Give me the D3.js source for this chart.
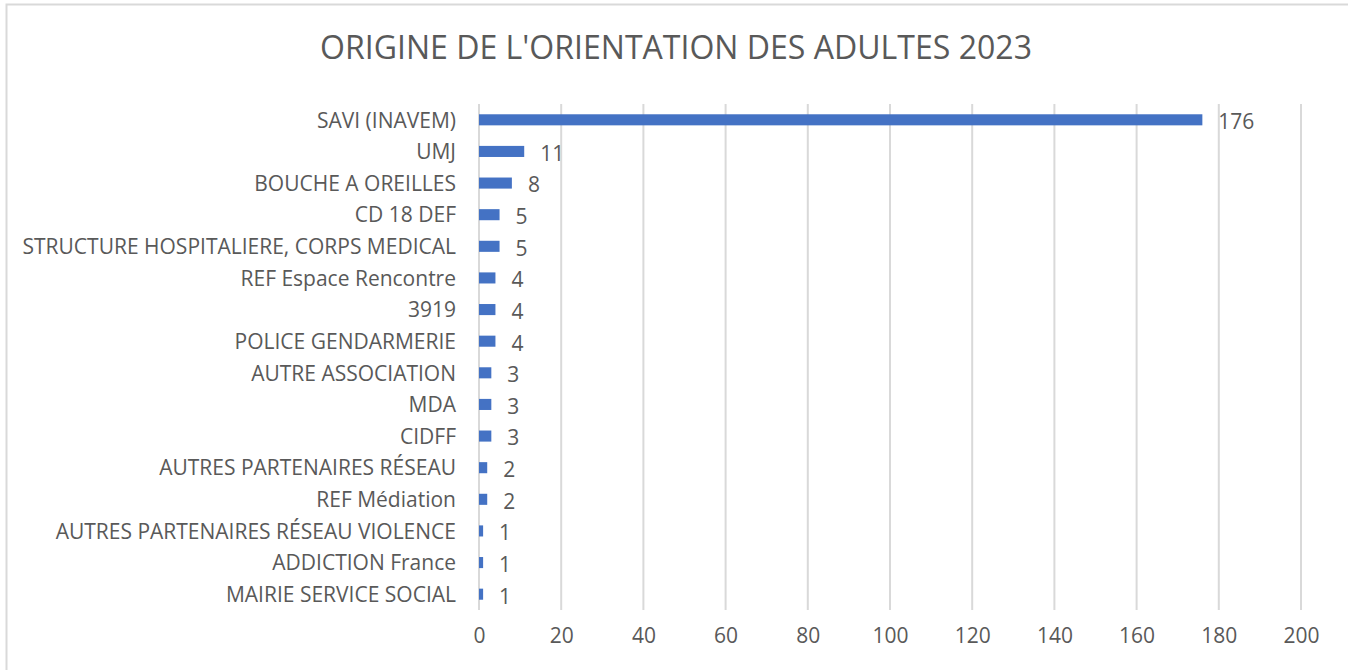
<!DOCTYPE html>
<html><head><meta charset="utf-8">
<script src="https://cdn.jsdelivr.net/npm/d3@7"></script>
<style>body{margin:0;background:#fff;}svg{display:block;font-family:"Open Sans",sans-serif;}</style>
</head><body>
<svg id="c" width="1348" height="670"></svg>
<script>
const title = "ORIGINE DE L'ORIENTATION DES ADULTES 2023";
const categories = ["SAVI (INAVEM)","UMJ","BOUCHE A OREILLES","CD 18 DEF","STRUCTURE HOSPITALIERE, CORPS MEDICAL","REF Espace Rencontre","3919","POLICE GENDARMERIE","AUTRE ASSOCIATION","MDA","CIDFF","AUTRES PARTENAIRES RÉSEAU","REF Médiation","AUTRES PARTENAIRES RÉSEAU VIOLENCE","ADDICTION France","MAIRIE SERVICE SOCIAL"];
const values = [176,11,8,5,5,4,4,4,3,3,3,2,2,1,1,1];
const xTicks = [0,20,40,60,80,100,120,140,160,180,200];

const svg = d3.select("#c");
const grey = "#595959";
svg.append("rect").attr("x",6.5).attr("y",4.5).attr("width",1360).attr("height",700)
  .attr("fill","#fff").attr("stroke","#d9d9d9").attr("stroke-width",2);

svg.append("text").attr("x",676).attr("y",59).attr("text-anchor","middle")
  .attr("font-size",32).attr("fill",grey).attr("textLength",712).attr("lengthAdjust","spacingAndGlyphs").text(title);

const x = d3.scaleLinear().domain([0,200]).range([479,1301]);
const y = d3.scaleBand().domain(categories).range([104,610]).paddingInner(0.65).paddingOuter(0.325);

const g = svg.append("g");
g.selectAll("line.grid").data(xTicks).join("line").attr("class","grid")
  .attr("x1",d=>x(d)).attr("x2",d=>x(d)).attr("y1",104).attr("y2",610)
  .attr("stroke","#d9d9d9").attr("stroke-width",2);

const xa = svg.append("g").attr("transform","translate(0,610)")
  .call(d3.axisBottom(x).tickValues(xTicks).tickSize(0).tickPadding(18));
xa.select(".domain").remove();
xa.selectAll("text").attr("font-size",21).attr("fill",grey).attr("font-family","Open Sans, sans-serif");

const ya = svg.append("g").attr("transform","translate(479,1)")
  .call(d3.axisLeft(y).tickSize(0).tickPadding(23));
ya.select(".domain").remove();
ya.selectAll("text").attr("font-size",21).attr("fill",grey).attr("font-family","Open Sans, sans-serif");

g.selectAll("rect.bar").data(values).join("rect").attr("class","bar")
  .attr("x",x(0)).attr("y",(d,i)=>y(categories[i]))
  .attr("width",d=>x(d)-x(0)).attr("height",y.bandwidth()).attr("fill","#4472C4");

g.selectAll("text.val").data(values).join("text").attr("class","val")
  .attr("x",d=>x(d)+16).attr("y",(d,i)=>y(categories[i])+y.bandwidth()/2+2)
  .attr("dy","0.35em").attr("font-size",21).attr("fill",grey).text(d=>d);
</script>
</body></html>
